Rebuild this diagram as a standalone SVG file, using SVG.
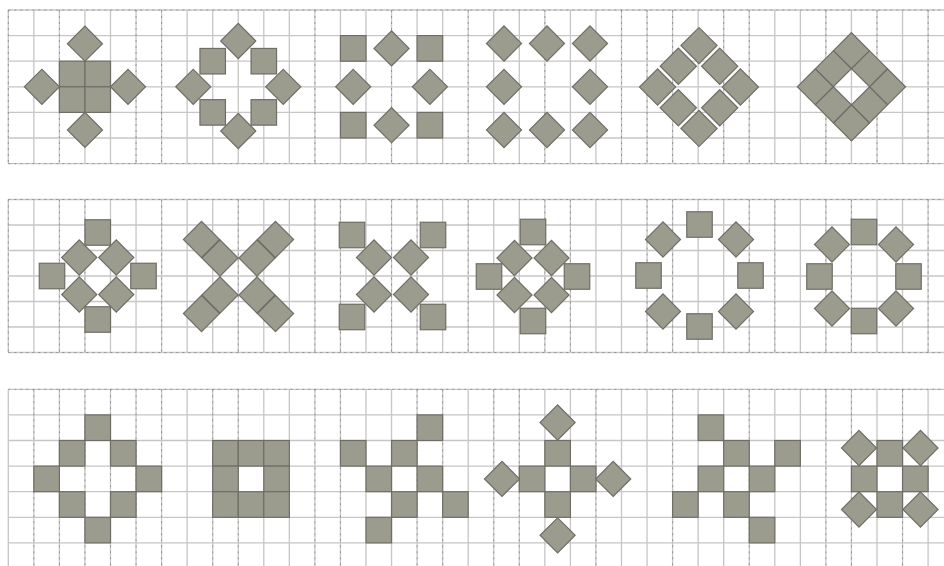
<svg xmlns="http://www.w3.org/2000/svg" xmlns:xlink="http://www.w3.org/1999/xlink" width="944" height="566" viewBox="0 0 944 566">
<style>
.grid{fill:none;stroke:#c6c6c6;stroke-width:1.3}
.dash{fill:none;stroke:#6a6a6a;stroke-width:1;stroke-dasharray:2 4;opacity:0.55}
.t{fill:#9b9b8e;stroke:#6e6e66;stroke-width:1.2}
</style>
<defs>
<rect id="d" class="t" x="-12.4" y="-12.4" width="24.8" height="24.8" transform="rotate(45)"/>
<rect id="dl" class="t" x="-12.8" y="-12.8" width="25.6" height="25.6" transform="rotate(45)"/>
<rect id="dm" class="t" x="-12.7" y="-12.7" width="25.4" height="25.4" transform="rotate(45)"/>
<rect id="c" class="t" width="25.55" height="25.6"/>
<rect id="q" class="t" width="25.5" height="25.5"/>
</defs>
<rect width="944" height="566" fill="#ffffff"/>
<g id="grid">
<path class="grid" d="M8.3 10H944M8.3 35.6H944M8.3 61.2H944M8.3 86.8H944M8.3 112.4H944M8.3 138H944M8.3 163.6H944
M8.3 199.5H944M8.3 225H944M8.3 250.5H944M8.3 276H944M8.3 301.5H944M8.3 327H944M8.3 352.5H944
M8.3 389.3H944M8.3 414.9H944M8.3 440.5H944M8.3 466.1H944M8.3 491.7H944M8.3 517.3H944M8.3 542.9H944"/>
<path class="grid" d="M8.3 10V163.6M33.85 10V163.6M59.4 10V163.6M84.95 10V163.6M110.5 10V163.6M136.05 10V163.6M161.6 10V163.6M187.15 10V163.6M212.7 10V163.6M238.25 10V163.6M263.8 10V163.6M289.35 10V163.6M314.9 10V163.6M340.45 10V163.6M366 10V163.6M391.55 10V163.6M417.1 10V163.6M442.65 10V163.6M468.2 10V163.6M493.75 10V163.6M519.3 10V163.6M544.85 10V163.6M570.4 10V163.6M595.95 10V163.6M621.5 10V163.6M647.05 10V163.6M672.6 10V163.6M698.15 10V163.6M723.7 10V163.6M749.25 10V163.6M774.8 10V163.6M800.35 10V163.6M825.9 10V163.6M851.45 10V163.6M877 10V163.6M902.55 10V163.6M928.1 10V163.6"/>
<path class="grid" d="M8.3 199.5V352.5M33.85 199.5V352.5M59.4 199.5V352.5M84.95 199.5V352.5M110.5 199.5V352.5M136.05 199.5V352.5M161.6 199.5V352.5M187.15 199.5V352.5M212.7 199.5V352.5M238.25 199.5V352.5M263.8 199.5V352.5M289.35 199.5V352.5M314.9 199.5V352.5M340.45 199.5V352.5M366 199.5V352.5M391.55 199.5V352.5M417.1 199.5V352.5M442.65 199.5V352.5M468.2 199.5V352.5M493.75 199.5V352.5M519.3 199.5V352.5M544.85 199.5V352.5M570.4 199.5V352.5M595.95 199.5V352.5M621.5 199.5V352.5M647.05 199.5V352.5M672.6 199.5V352.5M698.15 199.5V352.5M723.7 199.5V352.5M749.25 199.5V352.5M774.8 199.5V352.5M800.35 199.5V352.5M825.9 199.5V352.5M851.45 199.5V352.5M877 199.5V352.5M902.55 199.5V352.5M928.1 199.5V352.5"/>
<path class="grid" d="M8.3 389.3V566M33.85 389.3V566M59.4 389.3V566M84.95 389.3V566M110.5 389.3V566M136.05 389.3V566M161.6 389.3V566M187.15 389.3V566M212.7 389.3V566M238.25 389.3V566M263.8 389.3V566M289.35 389.3V566M314.9 389.3V566M340.45 389.3V566M366 389.3V566M391.55 389.3V566M417.1 389.3V566M442.65 389.3V566M468.2 389.3V566M493.75 389.3V566M519.3 389.3V566M544.85 389.3V566M570.4 389.3V566M595.95 389.3V566M621.5 389.3V566M647.05 389.3V566M672.6 389.3V566M698.15 389.3V566M723.7 389.3V566M749.25 389.3V566M774.8 389.3V566M800.35 389.3V566M825.9 389.3V566M851.45 389.3V566M877 389.3V566M902.55 389.3V566M928.1 389.3V566"/>
<path class="dash" d="M8.3 10H944M8.3 163.6H944M8.3 199.5H944M8.3 352.5H944M8.3 389.3H944
M8.3 10V163.6M59.4 10V163.6M136.05 10V163.6M161.6 10V163.6M314.9 10V163.6M391.55 10V163.6M468.2 10V163.6M544.85 10V163.6M621.5 10V163.6M647.05 10V163.6M672.6 10V163.6M723.7 10V163.6M749.25 10V163.6M825.9 10V163.6M877 10V163.6M928.1 10V163.6
M8.3 199.5V352.5M59.4 199.5V352.5M84.95 199.5V352.5M161.6 199.5V352.5M238.25 199.5V352.5M314.9 199.5V352.5M340.45 199.5V352.5M391.55 199.5V352.5M417.1 199.5V352.5M468.2 199.5V352.5M544.85 199.5V352.5M570.4 199.5V352.5M647.05 199.5V352.5M672.6 199.5V352.5M749.25 199.5V352.5M774.8 199.5V352.5M825.9 199.5V352.5M851.45 199.5V352.5M928.1 199.5V352.5
M33.85 389.3V566M59.4 389.3V566M84.95 389.3V566M110.5 389.3V566M136.05 389.3V566M161.6 389.3V566M212.7 389.3V566M238.25 389.3V566M314.9 389.3V566M340.45 389.3V566M417.1 389.3V566M442.65 389.3V566M493.75 389.3V566M519.3 389.3V566M595.95 389.3V566M672.6 389.3V566M749.25 389.3V566M825.9 389.3V566M851.45 389.3V566M902.55 389.3V566"/>
</g>
<g id="p1">
<use href="#c" x="59.4" y="61.2"/><use href="#c" x="84.95" y="61.2"/><use href="#c" x="59.4" y="86.8"/><use href="#c" x="84.95" y="86.8"/>
<use href="#d" x="84.95" y="43.7"/><use href="#d" x="84.95" y="129.9"/><use href="#d" x="41.9" y="86.8"/><use href="#d" x="128" y="86.8"/>
</g>
<g id="p2">
<use href="#q" x="199.95" y="48.45"/><use href="#q" x="251.05" y="48.45"/><use href="#q" x="199.95" y="99.65"/><use href="#q" x="251.05" y="99.65"/>
<use href="#d" x="238.25" y="41"/><use href="#d" x="238.25" y="131"/><use href="#d" x="193.25" y="86.8"/><use href="#d" x="283.25" y="86.8"/>
</g>
<g id="p3">
<use href="#c" x="340.45" y="35.6"/><use href="#c" x="417.1" y="35.6"/><use href="#c" x="340.45" y="112.4"/><use href="#c" x="417.1" y="112.4"/>
<use href="#d" x="391.55" y="48.4"/><use href="#d" x="391.55" y="125.2"/><use href="#d" x="353.2" y="86.8"/><use href="#d" x="429.9" y="86.8"/>
</g>
<g id="p4">
<use href="#d" x="504" y="43.5"/><use href="#d" x="547" y="43.5"/><use href="#d" x="590" y="43.5"/>
<use href="#d" x="504" y="86.8"/><use href="#d" x="590" y="86.8"/>
<use href="#d" x="504" y="130"/><use href="#d" x="547" y="130"/><use href="#d" x="590" y="130"/>
</g>
<g id="p5">
<use href="#dl" x="699" y="45.6"/><use href="#dl" x="699" y="128.4"/><use href="#dl" x="657.6" y="87"/><use href="#dl" x="740.4" y="87"/>
<use href="#dl" x="678.3" y="66.3"/><use href="#dl" x="719.7" y="66.3"/><use href="#dl" x="678.3" y="107.7"/><use href="#dl" x="719.7" y="107.7"/>
</g>
<g id="p6">
<use href="#dm" x="851.45" y="50.66"/><use href="#dm" x="851.45" y="122.94"/><use href="#dm" x="815.31" y="86.8"/><use href="#dm" x="887.59" y="86.8"/>
<use href="#dm" x="833.38" y="68.73"/><use href="#dm" x="869.52" y="68.73"/><use href="#dm" x="833.38" y="104.87"/><use href="#dm" x="869.52" y="104.87"/>
</g>
<g id="p7">
<use href="#q" x="85" y="219.75"/><use href="#q" x="85" y="306.75"/><use href="#q" x="39.25" y="263.25"/><use href="#q" x="130.75" y="263.25"/>
<use href="#d" x="79.25" y="257.5"/><use href="#d" x="116.25" y="257.5"/><use href="#d" x="79.25" y="294.5"/><use href="#d" x="116.25" y="294.5"/>
</g>
<g id="p8">
<use href="#dl" x="220" y="258"/><use href="#dl" x="257" y="258"/><use href="#dl" x="220" y="295"/><use href="#dl" x="257" y="295"/>
<use href="#dl" x="201.5" y="239.5"/><use href="#dl" x="275.5" y="239.5"/><use href="#dl" x="201.5" y="313.5"/><use href="#dl" x="275.5" y="313.5"/>
</g>
<g id="p9">
<use href="#q" x="339.25" y="222.25"/><use href="#q" x="420.25" y="222.25"/><use href="#q" x="339.25" y="304.25"/><use href="#q" x="420.25" y="304.25"/>
<use href="#d" x="374" y="257.5"/><use href="#d" x="411" y="257.5"/><use href="#d" x="374" y="294.5"/><use href="#d" x="411" y="294.5"/>
</g>
<g id="p10">
<use href="#q" x="520.25" y="219.25"/><use href="#q" x="520.25" y="308.25"/><use href="#q" x="476.25" y="263.75"/><use href="#q" x="564.25" y="263.75"/>
<use href="#d" x="514.5" y="258"/><use href="#d" x="551.5" y="258"/><use href="#d" x="514.5" y="295"/><use href="#d" x="551.5" y="295"/>
</g>
<g id="p11">
<use href="#q" x="686.75" y="211.75"/><use href="#q" x="686.75" y="313.75"/><use href="#q" x="635.75" y="262.75"/><use href="#q" x="737.75" y="262.75"/>
<use href="#d" x="663" y="239.5"/><use href="#d" x="736" y="239.5"/><use href="#d" x="663" y="311.5"/><use href="#d" x="736" y="311.5"/>
</g>
<g id="p12">
<use href="#q" x="851.25" y="219.25"/><use href="#q" x="851.25" y="308.25"/><use href="#q" x="806.75" y="263.75"/><use href="#q" x="895.75" y="263.75"/>
<use href="#d" x="832" y="244.5"/><use href="#d" x="896" y="244.5"/><use href="#d" x="832" y="308.5"/><use href="#d" x="896" y="308.5"/>
</g>
<g id="p13">
<use href="#c" x="84.95" y="414.9"/><use href="#c" x="59.4" y="440.5"/><use href="#c" x="110.5" y="440.5"/><use href="#c" x="33.85" y="466.1"/>
<use href="#c" x="136.05" y="466.1"/><use href="#c" x="59.4" y="491.7"/><use href="#c" x="110.5" y="491.7"/><use href="#c" x="84.95" y="517.3"/>
</g>
<g id="p14">
<use href="#c" x="212.7" y="440.5"/><use href="#c" x="238.25" y="440.5"/><use href="#c" x="263.8" y="440.5"/><use href="#c" x="212.7" y="466.1"/>
<use href="#c" x="263.8" y="466.1"/><use href="#c" x="212.7" y="491.7"/><use href="#c" x="238.25" y="491.7"/><use href="#c" x="263.8" y="491.7"/>
</g>
<g id="p15">
<use href="#c" x="417.1" y="414.9"/><use href="#c" x="340.45" y="440.5"/><use href="#c" x="391.55" y="440.5"/><use href="#c" x="366" y="466.1"/>
<use href="#c" x="417.1" y="466.1"/><use href="#c" x="391.55" y="491.7"/><use href="#c" x="442.65" y="491.7"/><use href="#c" x="366" y="517.3"/>
</g>
<g id="p16">
<use href="#c" x="544.85" y="440.5"/><use href="#c" x="519.3" y="466.1"/><use href="#c" x="570.4" y="466.1"/><use href="#c" x="544.85" y="491.7"/>
<use href="#d" x="557.6" y="422.5"/><use href="#d" x="557.6" y="535.3"/><use href="#d" x="502" y="478.9"/><use href="#d" x="613.2" y="478.9"/>
</g>
<g id="p17">
<use href="#c" x="698.15" y="414.9"/><use href="#c" x="723.7" y="440.5"/><use href="#c" x="774.8" y="440.5"/><use href="#c" x="698.15" y="466.1"/>
<use href="#c" x="749.25" y="466.1"/><use href="#c" x="672.6" y="491.7"/><use href="#c" x="723.7" y="491.7"/><use href="#c" x="749.25" y="517.3"/>
</g>
<g id="p18">
<use href="#c" x="877" y="440.5"/><use href="#c" x="851.45" y="466.1"/><use href="#c" x="902.55" y="466.1"/><use href="#c" x="877" y="491.7"/>
<use href="#d" x="859" y="448"/><use href="#d" x="920.5" y="448"/><use href="#d" x="859" y="509.5"/><use href="#d" x="920.5" y="509.5"/>
</g>
</svg>
